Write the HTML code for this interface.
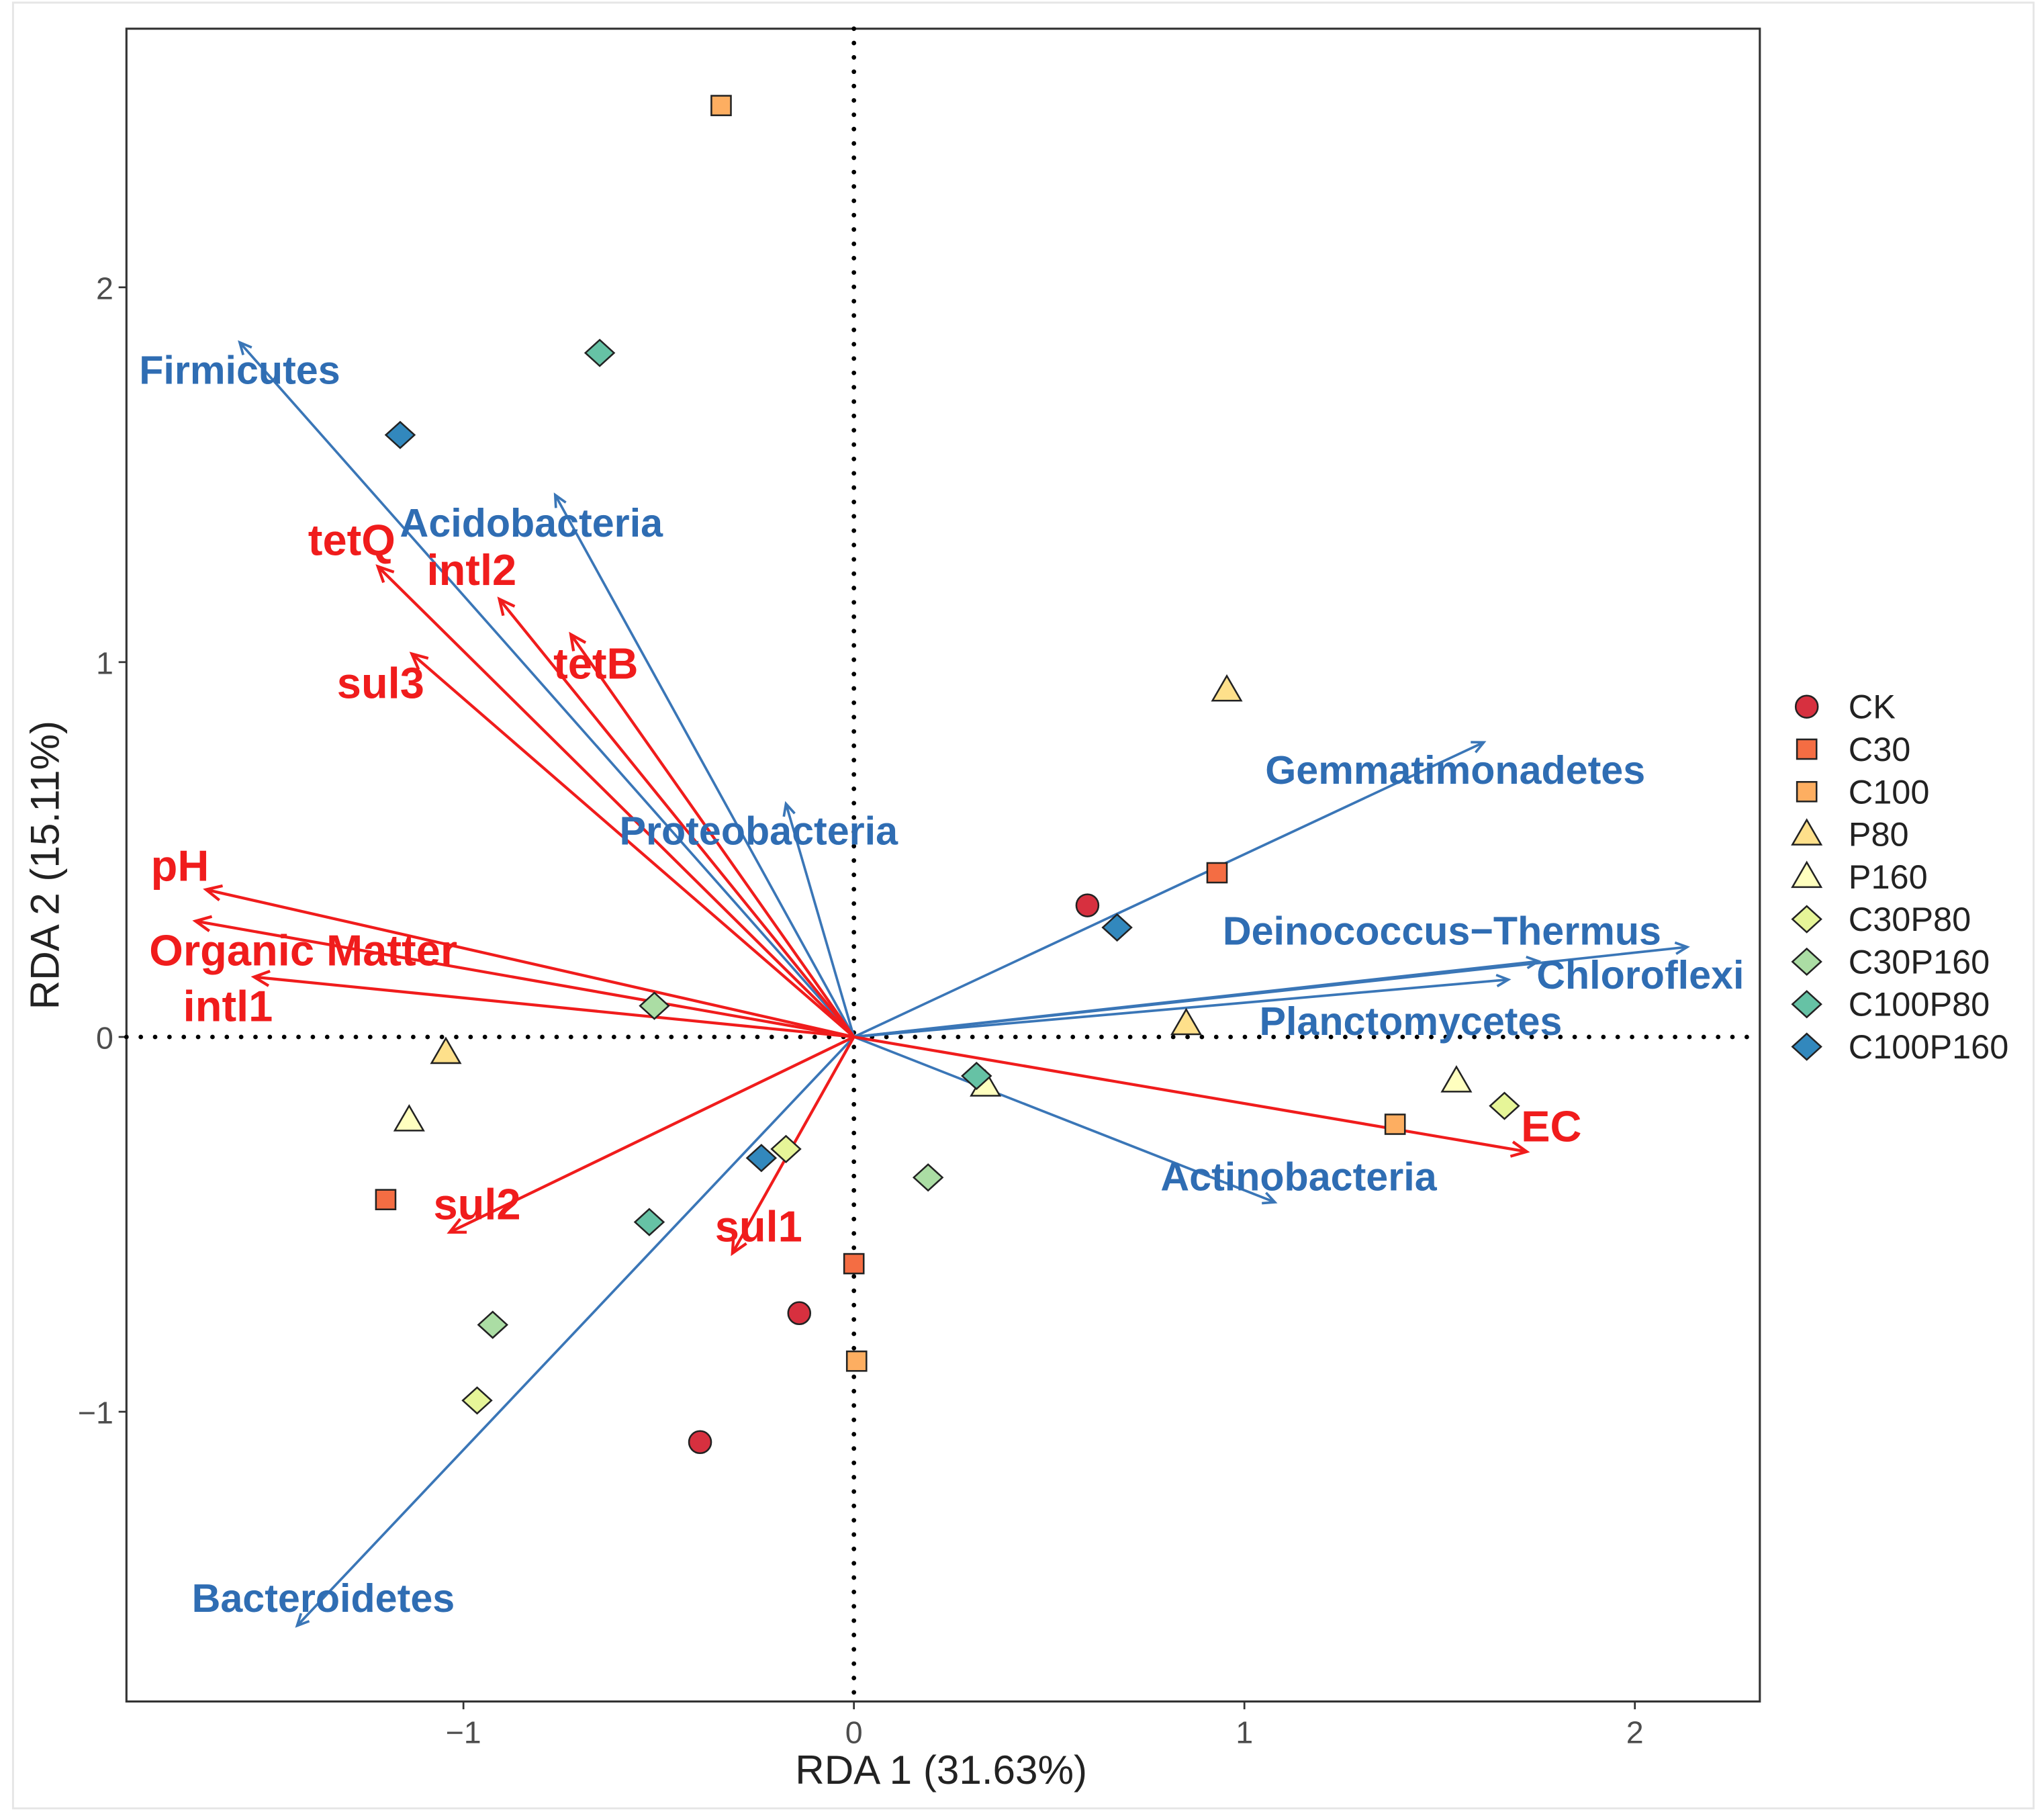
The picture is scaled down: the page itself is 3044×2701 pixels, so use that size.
<!DOCTYPE html>
<html><head><meta charset="utf-8"><style>
html,body{margin:0;padding:0;background:#fff}
svg{display:block}
text{font-family:"Liberation Sans",Arial,sans-serif}
</style></head><body>
<svg id="chart" width="3044" height="2701" viewBox="0 0 1568 1391.3" xmlns="http://www.w3.org/2000/svg">
<rect x="10" y="2" width="1550" height="1385" fill="none" stroke="#e6e6e6" stroke-width="1.5"/>
<g id="plot"></g>
</svg>
<script>
// ---- data ----
const groups = ["CK","C30","C100","P80","P160","C30P80","C30P160","C100P80","C100P160"];
const groupColors = ["#d7303f","#f46d43","#fdae61","#fee08b","#ffffbf","#e6f598","#abdda4","#66c2a5","#3288bd"];
const groupShapes = ["circle","square","square","triangle","triangle","diamond","diamond","diamond","diamond"];
const sampleX = [
  [0.598,-0.14,-0.394],
  [0.93,-1.199,0.0],
  [-0.34,1.386,0.007],
  [0.955,0.851,-1.045],
  [1.543,0.337,-1.139],
  [1.666,-0.174,-0.965],
  [-0.511,0.19,-0.925],
  [-0.651,0.314,-0.524],
  [-1.162,0.674,-0.237]
];
const sampleY = [
  [0.351,-0.737,-1.081],
  [0.438,-0.434,-0.605],
  [2.485,-0.233,-0.865],
  [0.925,0.035,-0.042],
  [-0.118,-0.129,-0.222],
  [-0.184,-0.299,-0.97],
  [0.083,-0.375,-0.768],
  [1.825,-0.104,-0.494],
  [1.606,0.292,-0.323]
];
const envNames = ["tetQ","intl2","tetB","sul3","pH","Organic Matter","intl1","sul2","sul1","EC"];
const envX = [-1.219,-0.908,-0.725,-1.132,-1.659,-1.686,-1.536,-1.035,-0.311,1.723];
const envY = [1.255,1.168,1.074,1.022,0.393,0.309,0.16,-0.521,-0.577,-0.306];
const envLabelX = [-1.286,-0.979,-0.661,-1.212,-1.726,-1.41,-1.603,-0.965,-0.244,1.786];
const envLabelY = [1.324,1.244,0.994,0.942,0.455,0.229,0.08,-0.448,-0.507,-0.24];
const taxaNames = ["Firmicutes","Acidobacteria","Proteobacteria","Gemmatimonadetes","Deinococcus\u2212Thermus","Chloroflexi","Planctomycetes","Actinobacteria","Bacteroidetes"];
const taxaX = [-1.573,-0.765,-0.174,1.613,1.753,2.134,1.676,1.078,-1.426];
const taxaY = [1.853,1.446,0.622,0.786,0.202,0.24,0.153,-0.441,-1.571];
const taxaLabelX = [-1.573,-0.826,-0.244,1.54,1.506,2.014,1.426,1.139,-1.359];
const taxaLabelY = [1.777,1.37,0.548,0.71,0.281,0.164,0.04,-0.375,-1.499];
const xTicks = [-1,0,1,2];
const yTicks = [-1,0,1,2];
const xTickLabels = ["\u22121","0","1","2"];
const yTickLabels = ["\u22121","0","1","2"];

// ---- scales ----
const L=97,R=1350,T=22,B=1305;
const xMin=-1.863,xMax=2.32,yMin=-1.773,yMax=2.69;
const sx=v=>L+(v-xMin)/(xMax-xMin)*(R-L);
const sy=v=>B-(v-yMin)/(yMax-yMin)*(B-T);
const NS="http://www.w3.org/2000/svg";
const plot=document.getElementById('plot');
function mk(tag,attrs,parent){const e=document.createElementNS(NS,tag);for(const k in attrs)e.setAttribute(k,attrs[k]);(parent||plot).appendChild(e);return e;}

// panel
let panel=mk('rect',{x:L,y:T,width:R-L,height:B-T,fill:'#fff',stroke:'#333','stroke-width':1.6});



// ticks
xTicks.forEach((t,i)=>{
  const x=sx(t);
  let tk=mk('line',{x1:x,x2:x,y1:B,y2:B+6,stroke:'#333','stroke-width':1.4});
  
  
  let tl=mk('text',{x:x,y:B+32,'text-anchor':'middle','font-size':24,fill:'#4d4d4d'});
  tl.textContent=xTickLabels[i];
  
  
});
yTicks.forEach((t,i)=>{
  const y=sy(t);
  let tk=mk('line',{x1:L-6,x2:L,y1:y,y2:y,stroke:'#333','stroke-width':1.4});
  
  
  let tl=mk('text',{x:L-10,y:y+9,'text-anchor':'end','font-size':24,fill:'#4d4d4d'});
  tl.textContent=yTickLabels[i];
  
  
});
let xt=mk('text',{x:722,y:1368,'text-anchor':'middle','font-size':31,fill:'#222'});
xt.textContent='RDA 1 (31.63%)';


let yt=mk('text',{x:0,y:0,'text-anchor':'middle','font-size':31,fill:'#222',transform:`translate(45,${(T+B)/2}) rotate(-90)`});
yt.textContent='RDA 2 (15.11%)';



// zero lines
let zx=mk('line',{x1:sx(0),x2:sx(0),y1:T,y2:B,stroke:'#000','stroke-width':3.5,'stroke-dasharray':'0 11','stroke-linecap':'round'});


let zy=mk('line',{x1:L,x2:R,y1:sy(0),y2:sy(0),stroke:'#000','stroke-width':3.5,'stroke-dasharray':'0 11','stroke-linecap':'round'});



function arrow(x,y,color,w,name,head){
  const x0=sx(0),y0=sy(0),x1=sx(x),y1=sy(y);
  const g=mk('g',{});
  
  
  mk('line',{x1:x0,y1:y0,x2:x1,y2:y1,stroke:color,'stroke-width':w},g);
  const a=Math.atan2(y1-y0,x1-x0),h=head,s=0.45;
  const p=[x1-h*Math.cos(a-s),y1-h*Math.sin(a-s),x1,y1,x1-h*Math.cos(a+s),y1-h*Math.sin(a+s)];
  mk('polyline',{points:p.join(' '),fill:'none',stroke:color,'stroke-width':w},g);
}
taxaNames.forEach((n,i)=>arrow(taxaX[i],taxaY[i],'#3a76b7',1.9,'taxa-arrow-'+i,10));
envNames.forEach((n,i)=>arrow(envX[i],envY[i],'#f01c1c',2.2,'env-arrow-'+i,13));

function sym(shape,x,y,fill,parent){
  const st={fill:fill,stroke:'#222','stroke-width':1.3};
  if(shape==='circle')return mk('circle',Object.assign({cx:x,cy:y,r:8.5},st),parent);
  if(shape==='square')return mk('rect',Object.assign({x:x-7.5,y:y-7.5,width:15,height:15},st),parent);
  if(shape==='triangle')return mk('polygon',Object.assign({points:`${x},${y-11} ${x+11},${y+8} ${x-11},${y+8}`},st),parent);
  return mk('polygon',Object.assign({points:`${x},${y-10} ${x+11},${y} ${x},${y+10} ${x-11},${y}`},st),parent);
}
groups.forEach((g,gi)=>{
  sampleX[gi].forEach((v,j)=>{
    const e=sym(groupShapes[gi],sx(v),sy(sampleY[gi][j]),groupColors[gi]);
    
    
  });
});

taxaNames.forEach((n,i)=>{
  const t=mk('text',{x:sx(taxaLabelX[i]),y:sy(taxaLabelY[i])+10,'text-anchor':'middle','font-size':30.5,'font-weight':'bold',fill:'#2f6db3'});
  t.textContent=n;
  
  
});
envNames.forEach((n,i)=>{
  const t=mk('text',{x:sx(envLabelX[i]),y:sy(envLabelY[i])+11,'text-anchor':'middle','font-size':33.5,'font-weight':'bold',fill:'#f01c1c'});
  t.textContent=n;
  
  
});

const lg=mk('g',{});


groups.forEach((g,i)=>{
  const y=542+i*32.6;
  const e=sym(groupShapes[i],1386,y,groupColors[i],lg);
  
  
  const t=mk('text',{x:1418,y:y+9,'font-size':26,fill:'#222'},lg);
  t.textContent=g;
  
  
});
</script>
</body></html>
